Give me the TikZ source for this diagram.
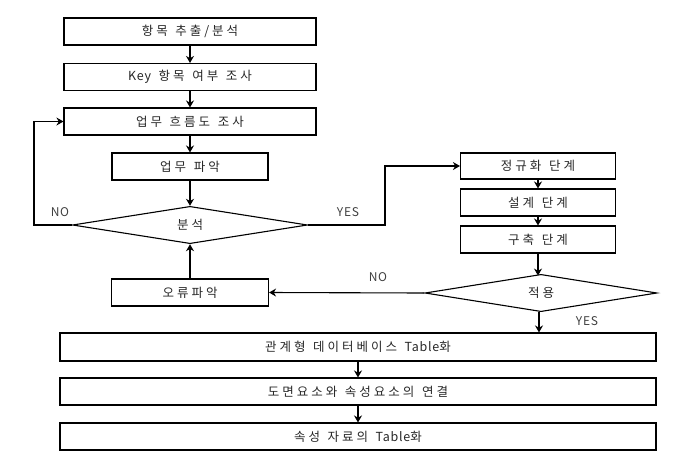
\documentclass[tikz,border=0pt]{standalone}
\usepackage{fontspec}
\usepackage{tikz}
\usetikzlibrary{shapes.geometric,arrows.meta}
\newfontfamily\kr[LetterSpace=24,WordSpace=1.3]{Noto Sans CJK KR}
\newfontfamily\lat[LetterSpace=6]{Noto Sans CJK KR}

\tikzset{
	box/.style={draw, line width=1.1pt, minimum height=27, inner sep=0pt, text=black!85, font=\kr\fontsize{12.5}{14}\selectfont},
	decide/.style={draw, diamond, line width=1.1pt, inner sep=0pt, text=black!85, font=\kr\fontsize{12.5}{14}\selectfont},
	flow/.style={line width=1.1pt, -{Stealth[length=7pt,width=8pt]}},
	tag/.style={font=\lat\fontsize{12}{14}\selectfont, text=black!75}
}

\begin{document}
\begin{tikzpicture}[x=1pt, y=-1pt]
	\useasboundingbox (0,0) rectangle (678,456);
	% left column
	\node[box, minimum width=252] (extract) at (190,31.5) {항목 추출/분석};
	\node[box, minimum width=252] (key) at (190,77) {{\lat Key} 항목 여부 조사};
	\node[box, minimum width=252] (flowchk) at (190,121.5) {업무 흐름도 조사};
	\node[box, minimum width=156] (task) at (190,166.5) {업무 파악};
	\node[decide, minimum width=235, minimum height=36] (analyse) at (190,225) {분석};
	\node[box, minimum width=157] (error) at (190,292.5) {오류파악};
	% right column
	\node[box, minimum width=155, minimum height=26] (norm) at (538,166) {정규화 단계};
	\node[box, minimum width=155] (design) at (538,202.5) {설계 단계};
	\node[box, minimum width=155] (build) at (538,239.5) {구축 단계};
	\node[decide, minimum width=232, minimum height=36] (apply) at (541,293) {적용};
	% bottom
	\node[box, minimum width=596, minimum height=28] (table) at (358,347) {관계형 데이터베이스 {\lat Table}화};
	\node[box, minimum width=596] (link) at (358,391.5) {도면요소와 속성요소의 연결};
	\node[box, minimum width=596] (attr) at (358,436.5) {속성 자료의 {\lat Table}화};

	\coordinate (noleft) at (34,225);
	\coordinate (yesright) at (385,225);

	\draw[flow] (extract) -- (key);
	\draw[flow] (key) -- (flowchk);
	\draw[flow] (flowchk) -- (task);
	\draw[flow] (task) -- (analyse.north);
	\draw[flow] (analyse.west) -- (noleft) |- (flowchk.west);
	\draw[flow] (analyse.east) -- (yesright) |- (norm.west);
	\draw[flow] (error) -- (analyse.south);
	\draw[flow] (norm) -- (design);
	\draw[flow] (design) -- (build);
	\draw[flow] (build.south -| apply.north) ++(-3,0) -- ++(0,22);
	\draw[flow] (apply.west) -- (error.east);
	\draw[flow] (apply.south) ++(-2,0) -- (table.north -| 539,0);
	\draw[flow] (table.south -| 358,0) -- (link.north -| 358,0);
	\draw[flow] (link) -- (attr);

	\node[tag] (no1) at (60,212) {NO};
	\node[tag] (yes1) at (348,212) {YES};
	\node[tag] (no2) at (378,277) {NO};
	\node[tag] (yes2) at (587,321) {YES};
\end{tikzpicture}
\end{document}
